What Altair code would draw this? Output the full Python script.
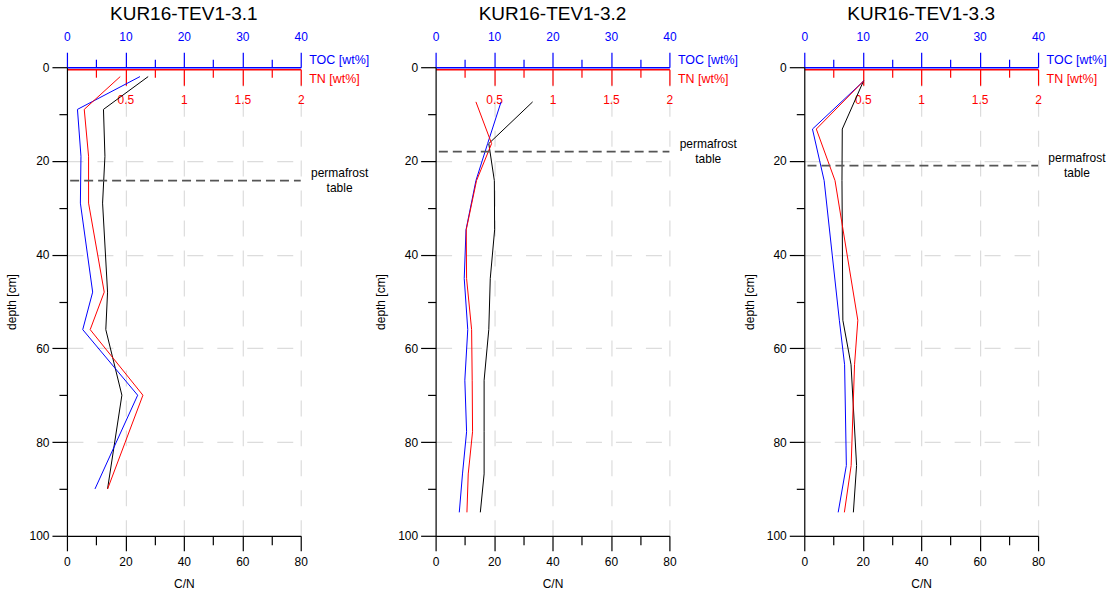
import altair as alt
import pandas as pd

FONT = "Liberation Sans"
W, H = 234, 469

titles = ["KUR16-TEV1-3.1", "KUR16-TEV1-3.2", "KUR16-TEV1-3.3"]

depth_1 = [2, 9, 19, 29, 48, 56, 70, 90]
toc_1 = [12.5, 1.8, 2.4, 2.3, 4.4, 2.7, 12.1, 4.8]
tn_1 = [0.456, 0.148, 0.185, 0.185, 0.319, 0.199, 0.65, 0.348]
cn_1 = [27.8, 12.5, 13.0, 12.2, 13.9, 13.3, 18.8, 13.9]

depth_2 = [7.4, 16.3, 24.2, 34.7, 45.1, 56.0, 66.8, 77.8, 86.8, 95.0]
toc_2 = [11.2, 8.9, 6.9, 5.2, 4.9, 5.5, 5.0, 5.3, 4.6, 4.05]
tn_2 = [0.345, 0.479, 0.350, 0.262, 0.265, 0.308, 0.313, 0.316, 0.279, 0.268]
cn_2 = [33.2, 18.2, 20.1, 20.2, 18.7, 18.2, 16.6, 16.6, 16.6, 15.3]

depth_3 = [2.9, 13.2, 24.2, 54.0, 63.5, 85.0, 95.0]
toc_3 = [10.2, 1.4, 3.4, 6.0, 6.9, 7.2, 5.8]
tn_3 = [0.509, 0.103, 0.263, 0.458, 0.43, 0.401, 0.343]
cn_3 = [20.3, 13.0, 12.9, 13.2, 16.0, 17.9, 16.8]

permafrost_depth = [24.2, 18.0, 21.0]
permafrost_label = "permafrost\ntable"

cn_ticks = list(range(0, 81, 10))
toc_ticks = list(range(0, 41, 5))
tn_ticks = [0, 0.25, 0.5, 0.75, 1.0, 1.25, 1.5, 1.75, 2.0]
depth_ticks = list(range(0, 101, 10))


def cond(test, a, b):
    return {"condition": {"test": test, "value": a}, "value": b}


common = dict(labelFont=FONT, labelFontSize=12, titleFont=FONT, titleFontSize=12,
              titleFontWeight="normal", labelOverlap=False, labelFlush=False)
common_top = dict(common, titleFontSize=12.5)

y_axis = alt.Axis(orient="left", values=depth_ticks, title="depth [cm]",
                  labelExpr="datum.value % 20 === 0 ? datum.label : ''",
                  tickSize=cond("datum.value % 20 === 0", 15, 8),
                  grid=True, gridColor="#dcdcdc", gridDash=[16, 14], gridWidth=1.2,
                  gridOpacity=cond("datum.value % 20 === 0 && datum.value > 0 && datum.value < 100", 1, 0),
                  domainColor="black", tickColor="black", labelColor="black", titleColor="black",
                  domainWidth=1.2, tickWidth=1.2, labelPadding=3, titlePadding=10, **common)

cn_axis = alt.Axis(orient="bottom", values=cn_ticks, title="C/N",
                   labelExpr="datum.value % 20 === 0 ? datum.label : ''",
                   tickSize=cond("datum.value % 20 === 0", 15, 9),
                   grid=True, gridColor="#dcdcdc", gridDash=[16, 14], gridWidth=1.2,
                   gridOpacity=cond("datum.value % 20 === 0 && datum.value > 0", 1, 0),
                   domainColor="black", tickColor="black", labelColor="black", titleColor="black",
                   domainWidth=1.2, tickWidth=1.2, labelPadding=6, titlePadding=11, **common)

toc_axis = alt.Axis(orient="top", values=toc_ticks, title="TOC [wt%]",
                    labelExpr="datum.value % 10 === 0 ? datum.label : ''",
                    tickSize=cond("datum.value % 10 === 0", 15, 8),
                    grid=False, domainColor="blue", tickColor="blue", labelColor="blue", titleColor="blue",
                    domainWidth=1.5, tickWidth=1.2, labelPadding=9,
                    titleX=W + 8, titleY=-8, titleAlign="left", titleAngle=0, titleBaseline="middle",
                    **common_top)

tn_axis = alt.Axis(orient="bottom", offset=-(H - 2), values=tn_ticks, title="TN [wt%]",
                   labelExpr="(datum.value > 0 && (datum.value * 2) % 1 === 0) ? format(datum.value, '~g') : ''",
                   tickSize=cond("(datum.value * 2) % 1 === 0", 16, 8),
                   tickOpacity=cond("datum.value === 0", 0, 1),
                   grid=False, domainColor="red", tickColor="red", labelColor="red", titleColor="red",
                   domainWidth=1.5, tickWidth=1.2, labelPadding=9,
                   titleX=W + 8, titleY=9, titleAlign="left", titleAngle=0, titleBaseline="middle",
                   **common_top)


def panel(title, depth, toc, tn, cn, pf):
    df = pd.DataFrame({"depth": depth, "TOC": toc, "TN": tn, "CN": cn})
    y = alt.Y("depth:Q", scale=alt.Scale(domain=[0, 100], reverse=True, nice=False, zero=False),
              axis=y_axis)
    base = alt.Chart(df)
    toc_line = base.mark_line(color="blue", strokeWidth=1).encode(
        x=alt.X("TOC:Q", scale=alt.Scale(domain=[0, 40], nice=False), axis=toc_axis),
        y=y, order="depth:Q")
    tn_line = base.mark_line(color="red", strokeWidth=1).encode(
        x=alt.X("TN:Q", scale=alt.Scale(domain=[0, 2], nice=False), axis=tn_axis),
        y=y, order="depth:Q")
    cn_line = base.mark_line(color="black", strokeWidth=1).encode(
        x=alt.X("CN:Q", scale=alt.Scale(domain=[0, 80], nice=False), axis=cn_axis),
        y=y, order="depth:Q")
    pf_df = pd.DataFrame({"depth": [pf], "x1": [1.1], "x2": [80.0], "xt": [93.3],
                          "label": [permafrost_label]})
    pf_base = alt.Chart(pf_df)
    rule = pf_base.mark_rule(color="#555555", strokeWidth=1.8, strokeDash=[9, 5]).encode(
        x=alt.X("x1:Q", scale=alt.Scale(domain=[0, 80], nice=False), axis=None),
        x2="x2:Q",
        y=y)
    text = pf_base.mark_text(font=FONT, fontSize=12, color="black", lineBreak="\n",
                             lineHeight=15, align="center", baseline="middle", dy=-8).encode(
        x=alt.X("xt:Q", scale=alt.Scale(domain=[0, 80], nice=False), axis=None),
        y=y, text="label:N")
    return alt.layer(cn_line, toc_line, tn_line, rule, text).resolve_scale(x="independent").properties(
        width=W, height=H,
        title=alt.TitleParams(title, font=FONT, fontSize=19, fontWeight="normal", color="black",
                              anchor="middle", offset=6))


chart = alt.hconcat(
    panel(titles[0], depth_1, toc_1, tn_1, cn_1, permafrost_depth[0]),
    panel(titles[1], depth_2, toc_2, tn_2, cn_2, permafrost_depth[1]),
    panel(titles[2], depth_3, toc_3, tn_3, cn_3, permafrost_depth[2]),
    spacing=4,
).configure_view(stroke=None).properties(background="white", padding=5)

chart.save("out.html", embed_options={"renderer": "svg", "actions": False})
